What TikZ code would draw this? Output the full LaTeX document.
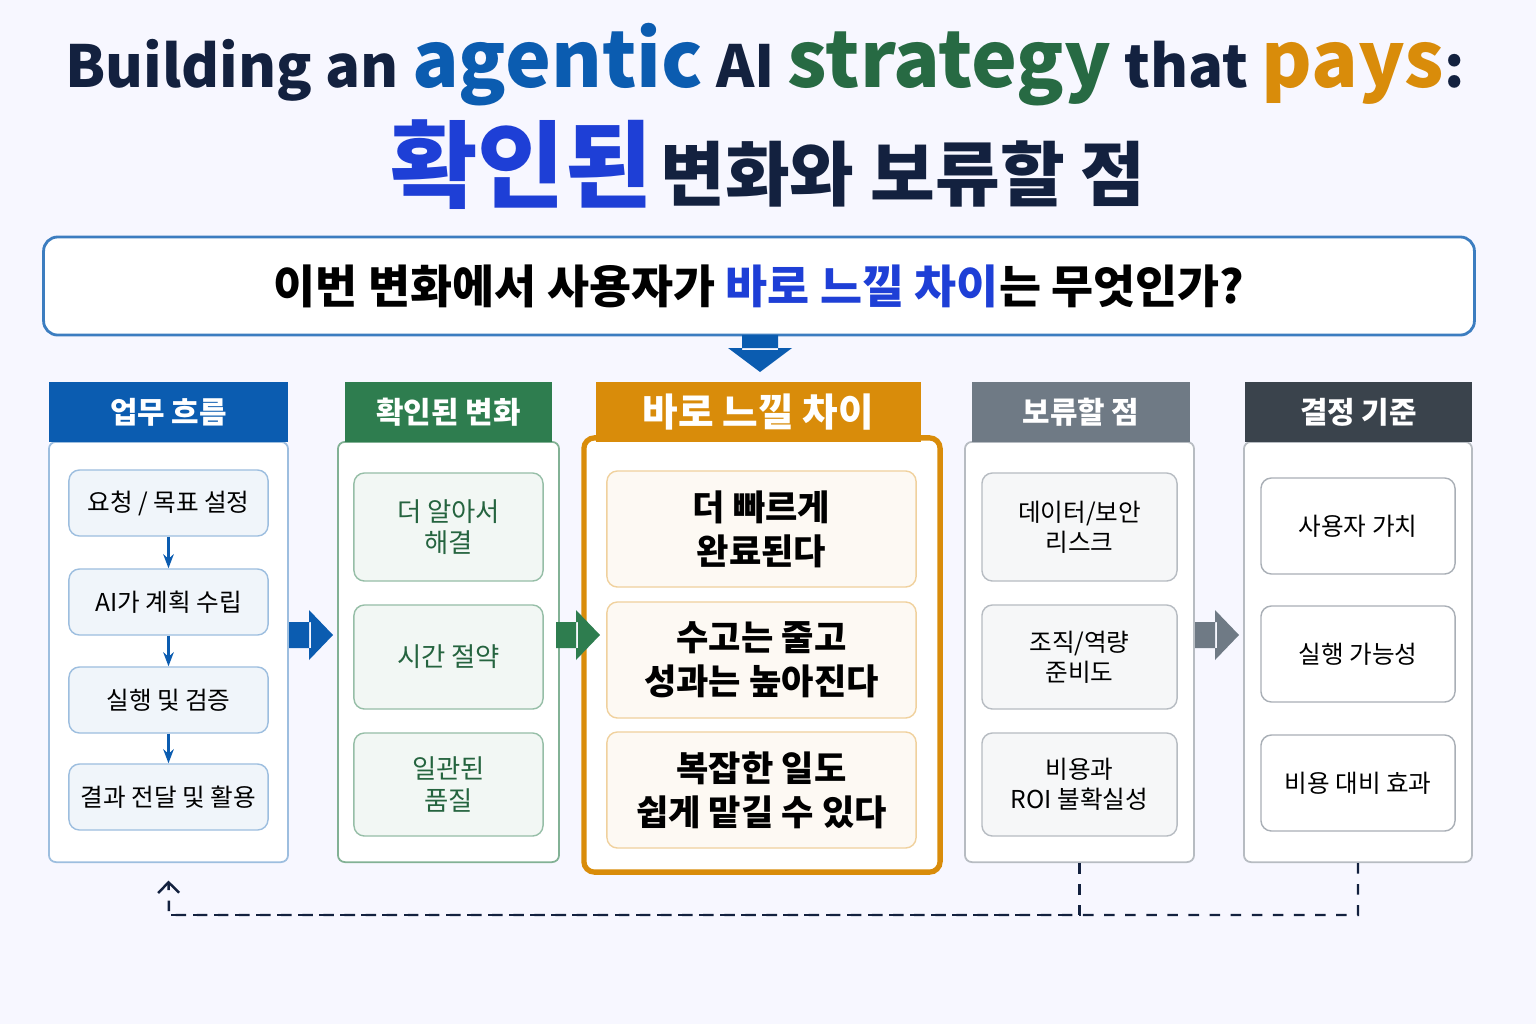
\documentclass[tikz,border=0pt]{standalone}
\usepackage{fontspec}
\setmainfont{Noto Sans CJK KR}
\usetikzlibrary{arrows.meta}
\definecolor{navy}{HTML}{13213F}
\definecolor{cblue}{HTML}{0B5CB0}
\definecolor{tblue}{HTML}{1E3FD6}
\definecolor{cgreen}{HTML}{2E7D4F}
\definecolor{corange}{HTML}{D98C0A}
\definecolor{cgray}{HTML}{6F7A85}
\definecolor{cdark}{HTML}{3A434C}
\tikzset{
  head/.style={fill=#1, text=white, font=\bfseries\fontsize{8.5}{10}\selectfont, inner sep=0pt},
  body/.style={draw=#1, fill=white, rounded corners=2pt, line width=0.5pt},
  item/.style={draw=#1, rounded corners=3pt, line width=0.4pt, align=center, inner sep=0pt,
    font=\fontsize{7}{8.5}\selectfont},
}
\begin{document}
\begin{tikzpicture}[x=0.01cm,y=-0.01cm]
\useasboundingbox[fill=white!97!blue] (0,0) rectangle (1536,1024);
% title
\node[font=\bfseries, text=navy] (title) at (765,65) {\fontsize{16.5}{20}\selectfont Building an
  {\fontsize{22}{26}\selectfont\color{cblue}agentic} AI
  {\fontsize{22}{26}\selectfont\color{cgreen!85!black}strategy} that
  {\fontsize{22}{26}\selectfont\color{corange}pays}:};
\node[font=\bfseries, text=navy] (subtitle) at (768,165) {{\fontsize{27}{30}\selectfont\color{tblue}확인된}
  \fontsize{20}{24}\selectfont 변화와 보류할 점};
% question
\node[draw=cblue!80, fill=white, rounded corners=4pt, line width=0.8pt,
  minimum width=14.3cm, minimum height=0.98cm, font=\bfseries\fontsize{13}{15}\selectfont] (q) at (759,286)
  {이번 변화에서 사용자가 {\color{tblue}바로 느낄 차이}는 무엇인가?};
\fill[cblue] (742,335) rectangle (778,350) (728,348) -- (792,348) -- (760,372) -- cycle;
% column 1
\node[body=cblue!40, minimum width=2.39cm, minimum height=4.2cm] (b1) at (168.5,652) {};
\node[head=cblue, minimum width=2.39cm, minimum height=0.6cm] (h1) at (168.5,412) {업무 흐름};
\foreach \y/\t [count=\i] in {503/{요청 / 목표 설정}, 602/AI가 계획 수립, 700/실행 및 검증, 797/결과 전달 및 활용}
  \node[item=cblue!40, fill=cblue!6, minimum width=1.99cm, minimum height=0.66cm] (f\i) at (168.5,\y) {\t};
\foreach \a/\b in {f1/f2, f2/f3, f3/f4}
  \draw[-{Stealth[length=4pt]}, cblue, line width=1pt] (\a) -- (\b);
% column 2
\node[body=cgreen!60, minimum width=2.21cm, minimum height=4.2cm] (b2) at (448.5,652) {};
\node[head=cgreen, minimum width=2.07cm, minimum height=0.6cm] (h2) at (448.5,412) {확인된 변화};
\foreach \y/\h/\t [count=\i] in {527/1.08/더 알아서\\해결, 657/1.04/시간 절약, 784.5/1.03/일관된\\품질}
  \node[item=cgreen!50, fill=cgreen!6, text=cgreen!80!black, font=\fontsize{7.5}{9}\selectfont,
    minimum width=1.89cm, minimum height=\h cm] (c\i) at (448.5,\y) {\t};
% column 3
\node[draw=corange, line width=1.5pt, fill=white, rounded corners=3pt, minimum width=3.56cm, minimum height=4.34cm] (b3) at (762,655) {};
\node[head=corange, font=\bfseries\fontsize{11}{13}\selectfont, minimum width=3.25cm, minimum height=0.6cm] (h3) at (758.5,412) {바로 느낄 차이};
\foreach \y/\t [count=\i] in {529/더 빠르게\\완료된다, 660/수고는 줄고\\성과는 높아진다, 790/복잡한 일도\\쉽게 맡길 수 있다}
  \node[item=corange!40, fill=corange!5, font=\bfseries\fontsize{10}{12.5}\selectfont,
    minimum width=3.09cm, minimum height=1.16cm] (d\i) at (761.5,\y) {\t};
% column 4
\node[body=cgray!50, minimum width=2.29cm, minimum height=4.2cm] (b4) at (1079.5,652) {};
\node[head=cgray, minimum width=2.18cm, minimum height=0.6cm] (h4) at (1081,412) {보류할 점};
\foreach \y/\h/\t [count=\i] in {527/1.08/{데이터/보안\\리스크}, 657/1.04/{조직/역량\\준비도}, 784.5/1.03/비용과\\ROI 불확실성}
  \node[item=cgray!50, fill=cgray!6, minimum width=1.95cm, minimum height=\h cm] (r\i) at (1079.5,\y) {\t};
% column 5
\node[body=cgray!50, minimum width=2.28cm, minimum height=4.2cm] (b5) at (1358,652) {};
\node[head=cdark, minimum width=2.27cm, minimum height=0.6cm] (h5) at (1358.5,412) {결정 기준};
\foreach \y/\t [count=\i] in {526/사용자 가치, 654/실행 가능성, 783/비용 대비 효과}
  \node[item=cgray!60, fill=white, minimum width=1.94cm, minimum height=0.96cm] (k\i) at (1358,\y) {\t};
% arrows between columns
\foreach \x/\c in {289/cblue, 556/cgreen, 1195/cgray}
  \fill[\c] (\x,622) rectangle (\x+22,648) (\x+20,610) -- (\x+44,635) -- (\x+20,660) -- cycle;
% feedback loop
\coordinate (lb) at (169,915);
\draw[dashed, navy, line width=0.7pt] (b4.south) |- (lb);
\draw[dashed, navy, line width=0.7pt, -{Straight Barb[length=3pt,width=6pt]}] (b5.south) |- (lb) -- ([yshift=-5pt]b1.south);
\end{tikzpicture}
\end{document}
